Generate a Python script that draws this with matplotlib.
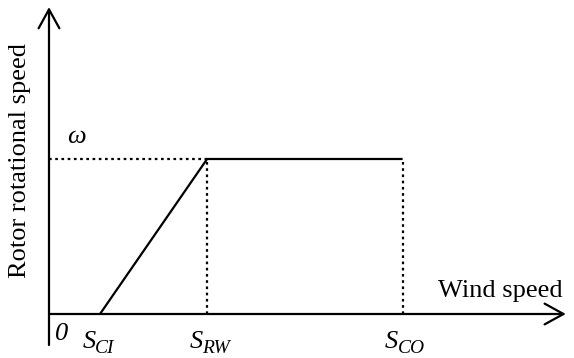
import numpy as np
import matplotlib
matplotlib.use("Agg")
from matplotlib import pyplot as plt

plt.rcParams['font.family'] = ['Liberation Serif', 'DejaVu Serif']

# wind speeds (schematic units): cut-in, rated, cut-out
wind_speeds = [3.0, 9.3, 20.8]
speed_subs = ['CI', 'RW', 'CO']
rotor_speed = [0.0, 1.0, 1.0]  # rotor speed at those wind speeds
omega_label = 'ω'
x_title = 'Wind speed'
y_title = 'Rotor rotational speed'

fig = plt.figure(figsize=(5.74, 3.58), dpi=100)
ax = fig.add_axes([0, 0, 1, 1])
ax.set_xlim(-49 / 17, 525 / 17)
ax.set_ylim(-44 / 155, 314 / 155)
ax.axis('off')

lw = 1.6
x_end = 30.4
y_end = 1.98

# axes arrows
arrow = dict(arrowstyle='->,head_length=0.4,head_width=0.22', mutation_scale=34,
             lw=lw, color='black', shrinkA=0, shrinkB=0)
ax.annotate('', xy=(x_end, 0), xytext=(0, 0), arrowprops=arrow)
ax.annotate('', xy=(0, y_end), xytext=(0, -0.2), arrowprops=arrow)

# speed curve
ax.plot(wind_speeds, rotor_speed, color='black', lw=lw, solid_capstyle='butt')

# dotted guides
dot = dict(color='black', lw=lw, linestyle=(0, (1.2, 1.6)))
ax.plot([0, wind_speeds[1]], [rotor_speed[1], rotor_speed[1]], **dot)
for s, w in zip(wind_speeds[1:], rotor_speed[1:]):
    ax.plot([s, s], [0, w], **dot)

fs = 19
for s, sub in zip(wind_speeds, speed_subs):
    ax.annotate('S', xy=(s, 0), xytext=(-3, -24.5), textcoords='offset points',
                ha='right', va='baseline', fontsize=fs, style='italic')
    ax.annotate(sub, xy=(s, 0), xytext=(-3.5, -28), textcoords='offset points',
                ha='left', va='baseline', fontsize=14, style='italic')
ax.annotate('0', xy=(0, 0), xytext=(9.4, -6.5), textcoords='offset points',
            ha='center', va='top', fontsize=fs, style='italic')
ax.annotate(omega_label, xy=(0, rotor_speed[1]), xytext=(20, 11.5), textcoords='offset points',
            ha='center', va='baseline', fontsize=fs, style='italic')
ax.annotate(x_title, xy=(x_end, 0), xytext=(-2, 12.2), textcoords='offset points',
            ha='right', va='baseline', fontsize=fs)
ax.text(20 / 574, 198 / 358, y_title, transform=fig.transFigure, rotation=90,
        ha='center', va='center', fontsize=fs)

fig.savefig('out.png', dpi=100)
